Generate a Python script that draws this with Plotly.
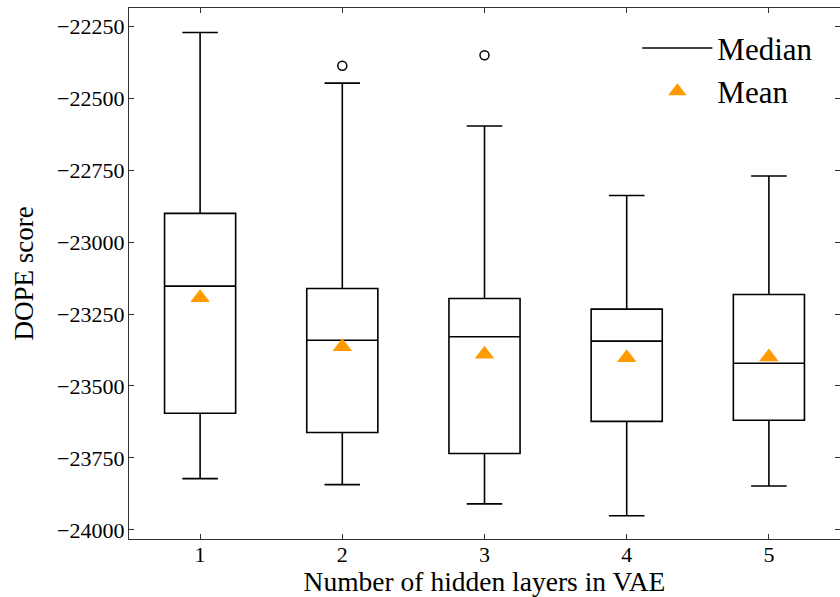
import plotly.graph_objects as go

# ---- data ----
layers = [1, 2, 3, 4, 5]
q1 = [-23595, -23662, -23735, -23623, -23619]
median = [-23153, -23341, -23329, -23344, -23421]
q3 = [-22900, -23161, -23196, -23233, -23182]
lower_whisker = [-23822, -23843, -23910, -23951, -23848]
upper_whisker = [-22271, -22447, -22596, -22838, -22770]
mean = [-23193, -23364, -23390, -23402, -23399]
outlier_x = [2, 3]
outlier_y = [-22387, -22350]

y_tickvals = [-22250, -22500, -22750, -23000, -23250, -23500, -23750, -24000]
y_ticktext = ["\u221222250", "\u221222500", "\u221222750", "\u221223000",
              "\u221223250", "\u221223500", "\u221223750", "\u221224000"]
x_tickvals = layers
x_ticktext = ["1", "2", "3", "4", "5"]

FONT = "Liberation Serif"
W, H = 840, 597
ML, MR, MT, MB = 129, 0, 8, 58

fig = go.Figure()

for i, x in enumerate(layers):
    fig.add_trace(go.Box(
        x=[x],
        q1=[q1[i]], median=[median[i]], q3=[q3[i]],
        lowerfence=[lower_whisker[i]], upperfence=[upper_whisker[i]],
        width=0.5, whiskerwidth=0.5,
        line=dict(color="black", width=1.6),
        fillcolor="rgba(255,255,255,0)",
        boxpoints=False,
        showlegend=False,
        hoverinfo="skip",
    ))

# outliers
fig.add_trace(go.Scatter(
    x=outlier_x, y=outlier_y, mode="markers",
    marker=dict(symbol="circle-open", size=9, color="black", line=dict(width=1.5)),
    showlegend=False,
))

# means
fig.add_trace(go.Scatter(
    x=layers, y=mean, mode="markers", name="Mean",
    marker=dict(symbol="triangle-up", size=17, color="#FF9A00"),
    showlegend=False,
))

# legend entries
fig.add_trace(go.Scatter(
    x=[None], y=[None], mode="lines", name="Median",
    line=dict(color="black", width=1.6),
))
fig.add_trace(go.Scatter(
    x=[None], y=[None], mode="markers", name="Mean",
    marker=dict(symbol="triangle-up", size=22, color="#FF9A00"),
))

axis_common = dict(
    showline=True, linecolor="#333333", linewidth=1.2, mirror="ticks",
    ticks="inside", ticklen=5, tickwidth=1, tickcolor="#333333",
    showgrid=False, zeroline=False,
    tickfont=dict(family=FONT, size=22, color="black"),
)

fig.update_layout(
    width=W, height=H,
    margin=dict(l=ML, r=MR, t=MT, b=MB),
    paper_bgcolor="white", plot_bgcolor="white",
    boxmode="overlay",
    font=dict(family=FONT, color="black"),
    xaxis=dict(
        range=[0.5, 5.5], tickmode="array", tickvals=x_tickvals, ticktext=x_ticktext,
        ticklabelstandoff=-5,
        title=dict(text="Number of hidden layers in VAE", font=dict(family=FONT, size=27.5),
                   standoff=8),
        **axis_common,
    ),
    yaxis=dict(
        range=[-24032, -22186], tickmode="array", tickvals=y_tickvals, ticktext=y_ticktext,
        ticklabelstandoff=-1,
        title=dict(text="DOPE score", font=dict(family=FONT, size=27), standoff=15),
        **axis_common,
    ),
    legend=dict(
        x=0.715, y=0.975, xanchor="left", yanchor="top",
        bgcolor="rgba(255,255,255,0)", borderwidth=0,
        font=dict(family=FONT, size=31, color="black"),
        itemwidth=70, tracegroupgap=0,
    ),
)

fig.write_html("out.html")
